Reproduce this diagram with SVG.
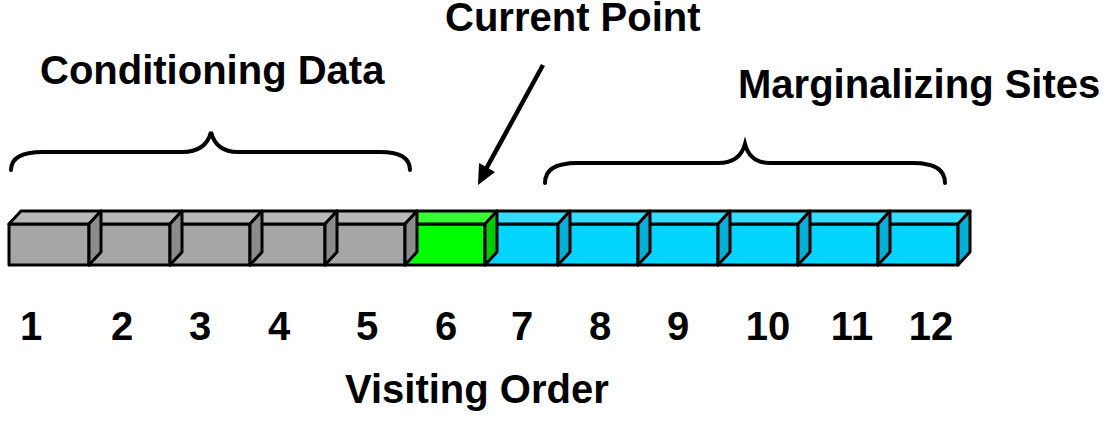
<svg xmlns="http://www.w3.org/2000/svg" width="1107" height="421" viewBox="0 0 1107 421">
<style>
text{font-family:"Liberation Sans",Arial,sans-serif;font-weight:bold;fill:#000}
.lbl{font-size:40px}
.num{font-size:40px;text-anchor:middle}
.box polygon,.box rect{stroke:#000;stroke-width:3;stroke-linejoin:round}
.g .f{fill:#a6a6a6}.g .t{fill:#b8b8b8}.g .s{fill:#8c8c8c}
.gr .f{fill:#00ff00}.gr .t{fill:#33ff33}.gr .s{fill:#00cc00}
.c .f{fill:#00d4ff}.c .t{fill:#33ddff}.c .s{fill:#00b0d6}
.brace{fill:none;stroke:#000;stroke-width:4;stroke-linecap:round}
</style>
<rect width="1107" height="421" fill="#fff"/>
<g id="boxes">
<g id="box12" class="box c"><rect class="f" x="878" y="224" width="80" height="41"/><polygon class="t" points="878,224 890,211 970,211 958,224"/><polygon class="s" points="958,224 970,211 970,252 958,265"/></g>
<g id="box11" class="box c"><rect class="f" x="798" y="224" width="80" height="41"/><polygon class="t" points="798,224 810,211 890,211 878,224"/><polygon class="s" points="878,224 890,211 890,252 878,265"/></g>
<g id="box10" class="box c"><rect class="f" x="718" y="224" width="80" height="41"/><polygon class="t" points="718,224 730,211 810,211 798,224"/><polygon class="s" points="798,224 810,211 810,252 798,265"/></g>
<g id="box9" class="box c"><rect class="f" x="638" y="224" width="80" height="41"/><polygon class="t" points="638,224 650,211 730,211 718,224"/><polygon class="s" points="718,224 730,211 730,252 718,265"/></g>
<g id="box8" class="box c"><rect class="f" x="558" y="224" width="80" height="41"/><polygon class="t" points="558,224 570,211 650,211 638,224"/><polygon class="s" points="638,224 650,211 650,252 638,265"/></g>
<g id="box7" class="box c"><rect class="f" x="485" y="224" width="73" height="41"/><polygon class="t" points="485,224 497,211 570,211 558,224"/><polygon class="s" points="558,224 570,211 570,252 558,265"/></g>
<g id="box6" class="box gr"><rect class="f" x="405" y="224" width="80" height="41"/><polygon class="t" points="405,224 417,211 497,211 485,224"/><polygon class="s" points="485,224 497,211 497,252 485,265"/></g>
<g id="box5" class="box g"><rect class="f" x="325" y="224" width="80" height="41"/><polygon class="t" points="325,224 337,211 417,211 405,224"/><polygon class="s" points="405,224 417,211 417,252 405,265"/></g>
<g id="box4" class="box g"><rect class="f" x="250" y="224" width="75" height="41"/><polygon class="t" points="250,224 262,211 337,211 325,224"/><polygon class="s" points="325,224 337,211 337,252 325,265"/></g>
<g id="box3" class="box g"><rect class="f" x="170" y="224" width="80" height="41"/><polygon class="t" points="170,224 182,211 262,211 250,224"/><polygon class="s" points="250,224 262,211 262,252 250,265"/></g>
<g id="box2" class="box g"><rect class="f" x="89" y="224" width="81" height="41"/><polygon class="t" points="89,224 101,211 182,211 170,224"/><polygon class="s" points="170,224 182,211 182,252 170,265"/></g>
<g id="box1" class="box g"><rect class="f" x="9" y="224" width="80" height="41"/><polygon class="t" points="9,224 21,211 101,211 89,224"/><polygon class="s" points="89,224 101,211 101,252 89,265"/></g>
</g>
<g id="connectors">
<path class="brace" d="M11,170 Q11,152 43,152 L182,152 Q206,152 211,132 Q216,152 238,152 L380,152 Q410,152 410,170"/>
<path class="brace" d="M545,183 Q545,163 577,163 L718,163 Q740,163 745,144 Q750,163 770,163 L913,163 Q945,163 945,183"/>
<line x1="543" y1="65" x2="486" y2="169" stroke="#000" stroke-width="4.5"/>
<polygon points="478,185 479,163 495,172" fill="#000"/>
</g>
<g id="labels">
<text class="lbl" x="445" y="31">Current Point</text>
<text class="lbl" x="40" y="84">Conditioning Data</text>
<text class="lbl" x="738" y="98">Marginalizing Sites</text>
<text class="lbl" x="345" y="403">Visiting Order</text>
</g>
<g id="numbers">
<text class="num" x="31" y="340">1</text>
<text class="num" x="122" y="340">2</text>
<text class="num" x="200" y="340">3</text>
<text class="num" x="279" y="340">4</text>
<text class="num" x="367" y="340">5</text>
<text class="num" x="446" y="340">6</text>
<text class="num" x="522" y="340">7</text>
<text class="num" x="600" y="340">8</text>
<text class="num" x="678" y="340">9</text>
<text class="num" x="768" y="340">10</text>
<text class="num" x="852" y="340">11</text>
<text class="num" x="931" y="340">12</text>
</g>
</svg>
